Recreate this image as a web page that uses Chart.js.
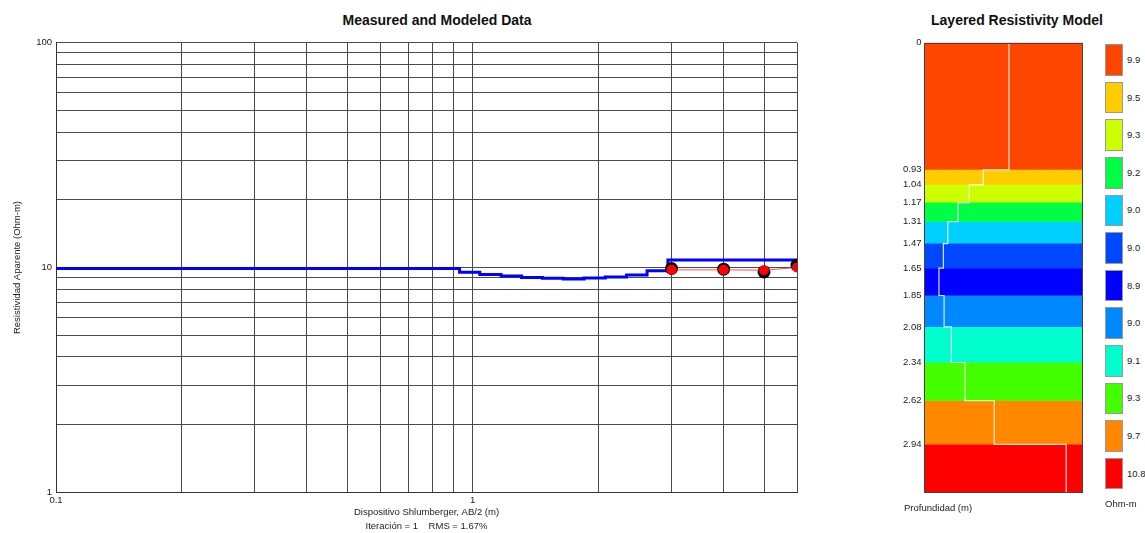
<!DOCTYPE html>
<html>
<head>
<meta charset="utf-8">
<title>Measured and Modeled Data</title>
<script src="https://cdn.jsdelivr.net/npm/chart.js@4.4.1/dist/chart.umd.min.js"></script>
<style>
  body { margin: 0; background: #fff; font-family: "Liberation Sans", Arial, sans-serif; color: #222; }
  #wrap { position: relative; width: 1145px; height: 533px; overflow: hidden; }
  .title { position: absolute; top: 12px; font-size: 14px; font-weight: bold; line-height: 17px; text-align: center; color: #111; }
  #curve { position: absolute; left: 0; top: 0; }
  #model { position: absolute; left: 872px; top: 0; }
  .note { position: absolute; font-size: 9.5px; line-height: 12px; white-space: nowrap; }
  #legend { position: absolute; left: 1105px; top: 44.3px; }
  .item { position: relative; width: 40px; height: 31.5px; margin-bottom: 6.1px; }
  .swatch { position: absolute; left: 0; top: 0; width: 18px; height: 31.5px; box-sizing: border-box; border: 1px solid #9a9a9a; }
  .item span { position: absolute; left: 22px; top: 50%; transform: translateY(-50%); font-size: 9.5px; line-height: 12px; }
</style>
</head>
<body>
<div id="wrap">
  <div class="title" style="left:0;width:874px;">Measured and Modeled Data</div>
  <div class="title" style="left:889px;width:256px;">Layered Resistivity Model</div>
  <canvas id="curve" width="872" height="533"></canvas>
  <canvas id="model" width="218" height="533"></canvas>
  <div id="legend"></div>
  <div class="note" style="left:904px;top:502px;">Profundidad (m)</div>
  <div class="note" style="left:1105px;top:498px;">Ohm-m</div>
</div>
<script>
// sounding: AB/2 (m) and apparent resistivity (Ohm-m)
const abHalf = [3, 4, 5, 6];
const measuredRho = [9.9, 9.83, 9.56, 10.24];
const modeledRho = [9.76, 9.76, 9.73, 10.0];

// layered model: depth to top of each layer (m) and resistivity (Ohm-m)
const layerTops = [0, 0.93, 1.04, 1.17, 1.31, 1.47, 1.65, 1.85, 2.08, 2.34, 2.62, 2.94];
const layerRho = [9.9, 9.52, 9.32, 9.16, 9.02, 8.96, 8.9, 8.97, 9.07, 9.26, 9.68, 10.8];
const layerColors = ["#ff4600", "#ffcc00", "#ccff00", "#00ff44", "#00d0ff", "#0048ff",
                     "#0000ff", "#0088ff", "#00ffcc", "#44ff00", "#ff8800", "#ff0000"];
const modelBottom = 3.29;

// axes
const xGrid = [0.1, 0.2, 0.3, 0.4, 0.5, 0.6, 0.7, 0.8, 0.9, 1, 2, 3, 4, 5, 6];
const xLabels = [0.1, 1];
const yGrid = [1, 2, 3, 4, 5, 6, 7, 8, 9, 10, 20, 30, 40, 50, 60, 70, 80, 90, 100];
const yLabels = [1, 10, 100];
const rhoAxis = [8.7, 11.08];

Chart.defaults.font.family = '"Liberation Sans", Arial, sans-serif';
Chart.defaults.font.size = 9.5;
Chart.defaults.color = "#222";
Chart.defaults.animation = false;
Chart.defaults.plugins.legend.display = false;
Chart.defaults.plugins.tooltip.enabled = false;

const last = (arr) => arr[arr.length - 1];
const layerBottom = (i) => (i < layerTops.length - 1 ? layerTops[i + 1] : modelBottom);

// left chart: step line of the model, modeled and measured points
const stepData = layerTops.map((d, i) => ({ x: i === 0 ? xGrid[0] : d, y: layerRho[i] }));
stepData.push({ x: last(abHalf), y: last(layerRho) });

new Chart(document.getElementById("curve"), {
  type: "line",
  data: {
    datasets: [
      {
        label: "Modeled",
        data: abHalf.map((x, i) => ({ x, y: modeledRho[i] })),
        borderColor: "rgba(255,40,40,0.8)",
        borderWidth: 1,
        pointRadius: 5,
        pointBackgroundColor: "#ff0000",
        pointBorderWidth: 0,
      },
      {
        label: "Measured",
        data: abHalf.map((x, i) => ({ x, y: measuredRho[i] })),
        showLine: false,
        pointRadius: 6.5,
        pointBackgroundColor: "#000",
        pointBorderWidth: 0,
      },
      {
        label: "Model",
        data: stepData,
        stepped: "before",
        borderColor: "#0000ff",
        borderWidth: 3,
        pointRadius: 0,
      },
    ],
  },
  options: {
    responsive: false,
    layout: { padding: { top: 42.7, right: 75, bottom: 0, left: 0 } },
    scales: {
      x: {
        type: "logarithmic",
        min: xGrid[0],
        max: last(xGrid),
        afterBuildTicks: (s) => { s.ticks = xGrid.map((v) => ({ value: v })); },
        afterFit: (s) => { s.height = 40.7; },
        ticks: {
          autoSkip: false,
          maxRotation: 0,
          padding: 2,
          callback: (v) => (xLabels.includes(v) ? String(v) : ""),
        },
        grid: { color: "#4a4a4a", drawTicks: false },
        border: { color: "#333" },
        title: {
          display: true,
          text: ["Dispositivo Shlumberger, AB/2 (m)", "Iteración = 1    RMS = 1.67%"],
          font: { size: 9.5, lineHeight: "14.5px" },
          padding: { top: 0, bottom: -1 },
        },
      },
      y: {
        type: "logarithmic",
        min: yGrid[0],
        max: last(yGrid),
        afterBuildTicks: (s) => { s.ticks = yGrid.map((v) => ({ value: v })); },
        afterFit: (s) => { s.width = 56; },
        ticks: {
          autoSkip: false,
          padding: 4,
          callback: (v) => (yLabels.includes(v) ? String(v) : ""),
        },
        grid: { color: "#4a4a4a", drawTicks: false },
        border: { color: "#333" },
        title: {
          display: true,
          text: "Resistividad Aparente (Ohm-m)",
          font: { size: 9.5 },
          padding: { top: 11.3, bottom: 0 },
        },
      },
    },
  },
});

// right chart: coloured layers with the resistivity profile on top
const profile = [];
layerTops.forEach((top, i) => {
  profile.push({ x: layerRho[i], y: top }, { x: layerRho[i], y: layerBottom(i) });
});

const bands = layerTops.map((top, i) => ({
  label: layerRho[i].toFixed(1),
  data: [{ x: rhoAxis[0], y: top }, { x: rhoAxis[1], y: top }],
  fill: { value: layerBottom(i) },
  backgroundColor: layerColors[i],
  borderColor: layerColors[i],
  borderWidth: 1,
  pointRadius: 0,
}));

const frame = {
  id: "frame",
  afterDatasetsDraw(chart) {
    const { ctx, chartArea: a } = chart;
    ctx.save();
    ctx.strokeStyle = "#444";
    ctx.lineWidth = 1;
    ctx.strokeRect(Math.round(a.left) + 0.5, Math.round(a.top) + 0.5,
                   Math.round(a.right - a.left) - 1, Math.round(a.bottom - a.top) - 1);
    ctx.restore();
  },
};

new Chart(document.getElementById("model"), {
  type: "line",
  data: {
    datasets: [
      {
        label: "Profile",
        data: profile,
        borderColor: "rgba(255,255,255,0.85)",
        borderWidth: 1.2,
        pointRadius: 0,
        fill: false,
      },
      ...bands,
    ],
  },
  options: {
    responsive: false,
    layout: { padding: { top: 42.7, right: 7, bottom: 40.7, left: 0 } },
    scales: {
      x: { type: "logarithmic", min: rhoAxis[0], max: rhoAxis[1], display: false },
      y: {
        type: "linear",
        reverse: true,
        min: 0,
        max: modelBottom,
        afterBuildTicks: (s) => { s.ticks = layerTops.map((v) => ({ value: v })); },
        afterFit: (s) => { s.width = 52; },
        ticks: {
          autoSkip: false,
          padding: 2.5,
          callback: (v) => (v === 0 ? "0" : v.toFixed(2)),
        },
        grid: { display: false, drawTicks: false },
        border: { display: false },
      },
    },
  },
  plugins: [frame],
});

// colour legend
const legend = document.getElementById("legend");
layerRho.forEach((rho, i) => {
  const item = document.createElement("div");
  item.className = "item";
  item.innerHTML = '<div class="swatch" style="background:' + layerColors[i] + '"></div><span>' + rho.toFixed(1) + "</span>";
  legend.appendChild(item);
});
</script>
</body>
</html>
